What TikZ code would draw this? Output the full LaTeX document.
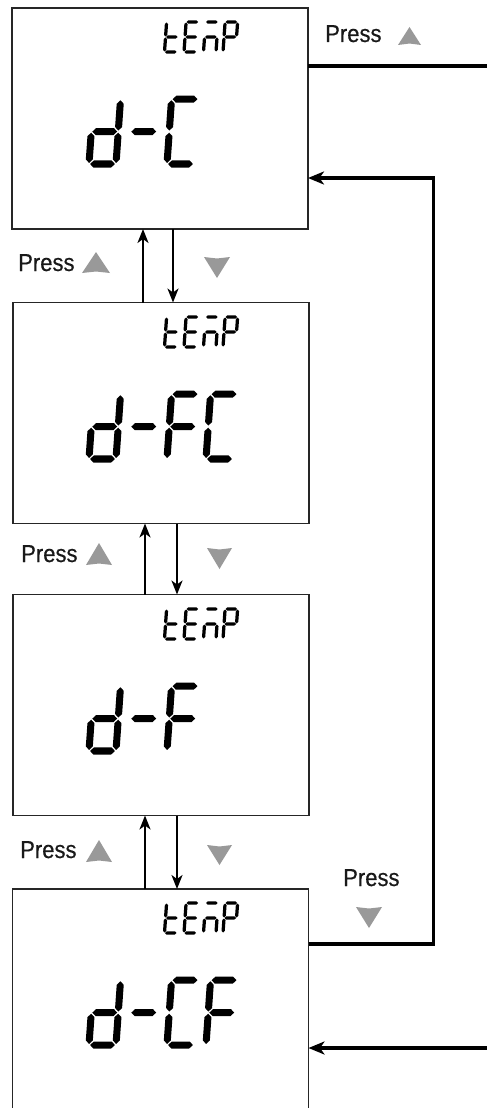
\documentclass[tikz,border=0pt]{standalone}
\usepackage{fontspec}
\newfontfamily\pressfont[FakeStretch=0.9,FakeBold=0.4]{Liberation Sans}
\usetikzlibrary{arrows.meta}
% seven-segment helpers (local units: width 1, height 2.4; y negative = up)
\newcommand\lcdhs[1]{\fill (0.04,{-(#1)}) -- (0.17,{-(#1)-0.13}) -- (0.83,{-(#1)-0.13}) -- (0.96,{-(#1)}) -- (0.83,{-(#1)+0.13}) -- (0.17,{-(#1)+0.13}) -- cycle;}
\newcommand\lcdvs[3]{\fill (#1,{-(#2)-0.04}) -- ({#1+0.13},{-(#2)-0.17}) -- ({#1+0.13},{-(#3)+0.17}) -- (#1,{-(#3)+0.04}) -- ({#1-0.13},{-(#3)+0.17}) -- ({#1-0.13},{-(#2)-0.17}) -- cycle;}
\newcommand\lcdsega{\lcdhs{2.4}}
\newcommand\lcdsegb{\lcdvs{1}{1.2}{2.4}}
\newcommand\lcdsegc{\lcdvs{1}{0}{1.2}}
\newcommand\lcdsegd{\lcdhs{0}}
\newcommand\lcdsege{\lcdvs{0}{0}{1.2}}
\newcommand\lcdsegf{\lcdvs{0}{1.2}{2.4}}
\newcommand\lcdsegg{\lcdhs{1.2}}
\newcommand\lcdigit[4]{\begin{scope}[shift={(#1,#2)},xslant=0.07,scale=#3]\foreach \s in {#4}{\csname lcdseg\s\endcsname}\end{scope}}
\newcommand\lcdtemp[1]{%
  \lcdigit{164.5}{#1}{12.5}{d,e,f,g}
  \lcdigit{184}{#1}{12.5}{a,d,e,f,g}
  \lcdigit{203.5}{#1}{12.5}{a,c,e,g}
  \lcdigit{223}{#1}{12.5}{a,b,e,f,g}}
\newcommand\uptri[4]{\fill[tri] ({(#1+#2)/2},#3) -- (#2,#4) -- ({(#1+#2)/2},{#4-1.5}) -- (#1,#4) -- cycle;}
\newcommand\dntri[4]{\fill[tri] (#1,#3) -- ({(#1+#2)/2},{#3+1.5}) -- (#2,#3) -- ({(#1+#2)/2},#4) -- cycle;}
\begin{document}
\begin{tikzpicture}[x=1pt,y=-1pt,
  lcdbox/.style={draw=black!85, line width=1.4pt, minimum width=296pt, minimum height=221pt, inner sep=0pt, outer sep=0pt},
  arr/.style={line width=2.2pt, -{Stealth[length=14pt,width=11pt,inset=4pt]}},
  looparr/.style={line width=3.4pt, -{Stealth[length=16pt,width=13pt,inset=4.5pt]}},
  loopline/.style={line width=3.4pt},
  presslbl/.style={font=\pressfont\fontsize{24.5}{28}\selectfont, inner sep=0pt, anchor=base west, text=black!90},
  tri/.style={fill=black!40}]
\useasboundingbox (0,0) rectangle (487,1108);
\clip (0,0) rectangle (487,1108);
\fill[white] (0,0) rectangle (487,1108);
% boxes
\node[lcdbox] (b1) at (160,118.5) {};
\node[lcdbox] (b2) at (161,413) {};
\node[lcdbox] (b3) at (161,705) {};
\node[lcdbox] (b4) at (160.5,999.5) {};
% displays
\lcdtemp{52}
\lcdigit{89}{164}{27}{b,c,d,e,g}
\lcdigit{128}{164}{27}{g}
\lcdigit{167}{164}{27}{a,d,e,f}
\lcdtemp{347}
\lcdigit{89}{459}{27}{b,c,d,e,g}
\lcdigit{128}{459}{27}{g}
\lcdigit{167}{459}{27}{a,e,f,g}
\lcdigit{206}{459}{27}{a,d,e,f}
\lcdtemp{639}
\lcdigit{89}{751}{27}{b,c,d,e,g}
\lcdigit{128}{751}{27}{g}
\lcdigit{167}{751}{27}{a,e,f,g}
\lcdtemp{933}
\lcdigit{89}{1045}{27}{b,c,d,e,g}
\lcdigit{128}{1045}{27}{g}
\lcdigit{167}{1045}{27}{a,d,e,f}
\lcdigit{206}{1045}{27}{a,e,f,g}
% vertical arrows
\coordinate (u1) at (143,0); \coordinate (d1) at (173,0);
\coordinate (u2) at (145,0); \coordinate (d2) at (177,0);
\draw[arr] (b2.north -| u1) -- (b1.south -| u1);
\draw[arr] (b1.south -| d1) -- (b2.north -| d1);
\draw[arr] (b3.north -| u2) -- (b2.south -| u2);
\draw[arr] (b2.south -| d2) -- (b3.north -| d2);
\draw[arr] (b4.north -| u2) -- (b3.south -| u2);
\draw[arr] (b3.south -| d2) -- (b4.north -| d2);
% right side connectors
\coordinate (r1) at (487,66);
\draw[loopline] (b1.east |- r1) -- (r1);
\coordinate (c1) at (433.5,944); \coordinate (c2) at (433.5,178);
\draw[looparr] (b4.east |- c1) -- (c1) -- (c2) -- (b1.east |- c2);
\coordinate (r4) at (487,1048);
\draw[looparr] (r4) -- (b4.east |- r4);
% labels
\node[presslbl] (pt) at (325,42) {Press};
\node[presslbl] (p1) at (18,271) {Press};
\node[presslbl] (p2) at (21,562) {Press};
\node[presslbl] (p3) at (20,858) {Press};
\node[presslbl] (pb) at (343,886) {Press};
\uptri{398}{421}{27}{45}
\uptri{82}{110}{252}{273}
\dntri{204}{230}{257}{278}
\uptri{86}{112}{543}{565}
\dntri{207}{232}{548}{569}
\uptri{86}{112}{840}{862}
\dntri{207}{232}{845}{865}
\dntri{356}{382}{907}{928}
\end{tikzpicture}
\end{document}
